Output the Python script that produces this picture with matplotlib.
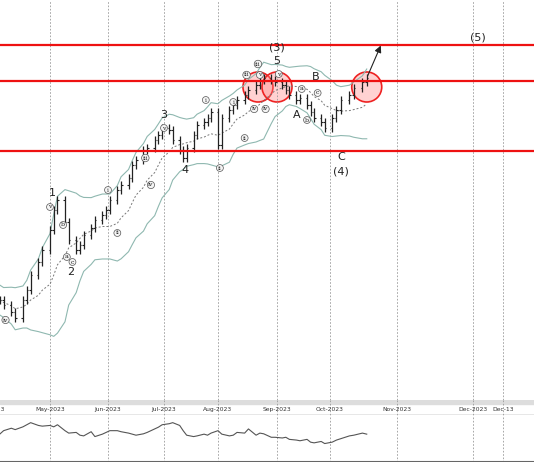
import matplotlib
matplotlib.use("Agg")
import matplotlib.pyplot as plt
import matplotlib.dates as mdates
from matplotlib.patches import Ellipse
import numpy as np
import pandas as pd

# closing prices (chart units), one every two trading days
close_y = [300,305,312,318,300,290,275,262,250,
           230,210,200,222,240,250,245,235,228,220,215,
           210,200,190,185,178,165,160,150,148,140,135,
           128,130,140,150,158,148,135,125,122,118,
           112,145,118,110,105,100,95,90,85,80,78,
           80,82,85,90,95,100,98,105,112,118,
           122,128,118,110,100,95,88,82,78]
closes = [400 - v for v in close_y]
indicator = [45,55,62,58,66,72,78,70,68,
             70,66,72,55,48,50,42,40,52,38,45,
             50,55,55,52,48,45,42,46,50,60,65,
             72,75,78,70,55,42,38,40,45,42,
             48,55,45,40,42,50,48,60,42,48,46,
             36,36,34,36,30,28,26,30,22,20,
             24,18,22,28,32,40,42,48,45]
levels = [355, 319, 249]
month_ticks = ["2023-04-01","2023-05-01","2023-06-01","2023-07-01","2023-08-01",
               "2023-09-01","2023-10-01","2023-11-01","2023-12-01","2023-12-13"]
month_labels = ["Apr-2023","May-2023","Jun-2023","Jul-2023","Aug-2023","Sep-2023",
                "Oct-2023","Nov-2023","Dec-2023","Dec-13"]
tick_px = [-8, 50, 108, 164, 218, 277, 330, 397, 473, 503]
waves = [("1","2023-05-02",207,"p"),("2","2023-05-12",128,"p"),("3","2023-07-01",285,"p"),
         ("4","2023-07-13",230,"p"),("5","2023-09-01",339,"p"),("(3)","2023-09-01",352,"p"),
         ("A","2023-09-12",285,"p"),("B","2023-09-23",323,"p"),("C","2023-10-06",243,"p"),
         ("(4)","2023-10-06",229,"p"),("(5)","2023-12-03",362,"p"),
         ("v","2023-05-01",193,"c"),("b","2023-05-08",175,"c"),("a","2023-05-10",143,"c"),
         ("c","2023-05-13",138,"c"),("iv","2023-04-08",80,"c"),("i","2023-06-01",210,"c"),
         ("ii","2023-06-06",167,"c"),("v","2023-07-01",272,"c"),("iv","2023-06-24",215,"c"),
         ("iii","2023-06-21",242,"c"),("i","2023-07-25",300,"c"),("ii","2023-08-02",232,"c"),
         ("i","2023-08-09",298,"c"),("ii","2023-08-15",262,"c"),("iii","2023-08-22",336,"c"),
         ("iii","2023-08-16",325,"c"),("v","2023-08-23",325,"c"),("iv","2023-08-20",291,"c"),
         ("iv","2023-08-26",291,"c"),("v","2023-09-02",326,"c"),("a","2023-09-15",311,"c"),
         ("b","2023-09-18",280,"c"),("c","2023-09-24",307,"c")]
circles = [("2023-08-22",313),("2023-09-01",313),("2023-10-18",313)]

tick_num = mdates.date2num(pd.to_datetime(month_ticks))
def xp(d):
    return np.interp(mdates.date2num(pd.to_datetime(d)), tick_num, tick_px)

dates = pd.bdate_range("2023-04-05","2023-10-20")[::2][:len(closes)]
x = xp(dates)
c = np.array(closes, float)
o = np.r_[c[0], c[:-1]]
hi = np.maximum(o, c) + 4
lo = np.minimum(o, c) - 4

fig = plt.figure(figsize=(5.34,4.62), dpi=100)
ax = fig.add_axes([0, 62/462, 1, 400/462])
ax.set_xlim(0, 534); ax.set_ylim(0, 400)
for p in tick_px[1:]:
    ax.axvline(p, color="#999", ls=(0,(2,2)), lw=0.6)
s = pd.Series(c)
ma = s.rolling(10, min_periods=1).mean()
sd = s.rolling(10, min_periods=2).std().bfill()
ax.plot(x, ma+1.4*sd+10, color="#8fb8b0", lw=0.8)
ax.plot(x, ma-1.4*sd-10, color="#8fb8b0", lw=0.8)
ax.plot(x, ma, color="#777", lw=0.7, ls=(0,(2,2)))
ax.vlines(x, lo, hi, color="#222", lw=0.9)
ax.hlines(o, x-1.5, x, color="#222", lw=0.8)
ax.hlines(c, x, x+1.5, color="#222", lw=0.8)
for lv in levels:
    ax.axhline(lv, color="#ee1111", lw=1.6)
for t, yv in circles:
    ax.add_patch(Ellipse((xp(t), yv), 30, 30,
                         fc=(1,0.5,0.5,0.35), ec="#ee2222", lw=1.2))
for lab, t, yv, kind in waves:
    xv = xp(t)
    if kind == "p":
        ax.text(xv, yv, lab, fontsize=8, ha="center", va="center", color="#222")
    else:
        ax.text(xv, yv, lab, fontsize=4.5, ha="center", va="center", color="#222",
                family="serif", bbox=dict(boxstyle="circle,pad=0.15", fc="#f4f4f4", ec="#555", lw=0.5))
ax.annotate("", xy=(xp("2023-10-25"), 357),
            xytext=(x[-1], 322), arrowprops=dict(arrowstyle="-|>", color="#222", lw=0.8))
ax.axis("off")

sx = fig.add_axes([0, 47/462, 1, 15/462])
sx.set_xlim(0, 534); sx.set_ylim(0, 1)
sx.axhspan(0.75, 1.0, color="#dddddd")
for p, l in zip(tick_px, month_labels):
    sx.axvline(p, color="#999", ls=(0,(2,2)), lw=0.6)
    sx.text(p, 0.35, l, fontsize=4.3, ha="center", va="center", color="#333")
sx.axhline(0.02, color="#888", lw=1)
sx.axis("off")

ix = fig.add_axes([0, 0, 1, 47/462])
ix.set_xlim(0, 534); ix.set_ylim(-35, 100)
for p in tick_px[1:]:
    ix.axvline(p, color="#999", ls=(0,(2,2)), lw=0.6)
ix.plot(x, indicator, color="#555", lw=0.8)
ix.axhline(-35, color="#666", lw=1.5)
ix.axis("off")
fig.savefig("out.png", dpi=100)
